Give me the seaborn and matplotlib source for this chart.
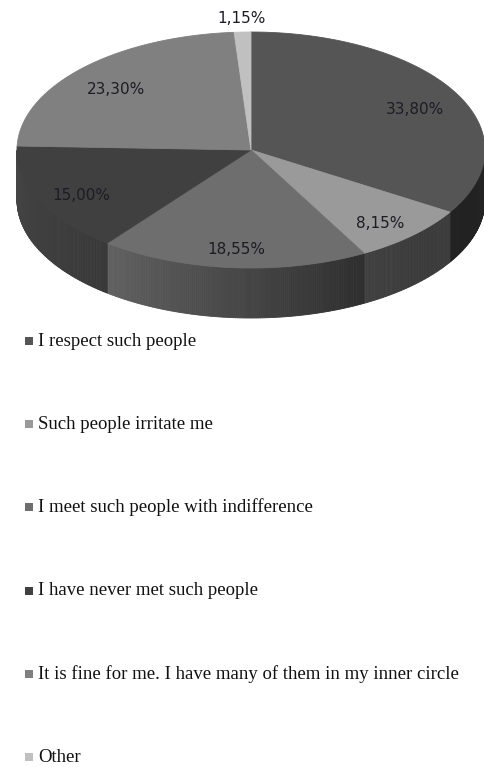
import numpy as np
import matplotlib
matplotlib.use("Agg")
import matplotlib.pyplot as plt
from matplotlib.patches import Polygon, Rectangle
import seaborn as sns

# Survey answers and their shares (%)
categories = [
    "I respect such people",
    "Such people irritate me",
    "I meet such people with indifference",
    "I have never met such people",
    "It is fine for me. I have many of them in my inner circle",
    "Other",
]
shares = [33.80, 8.15, 18.55, 15.00, 23.30, 1.15]
slice_colors = ["#555555", "#9a9a9a", "#6e6e6e", "#404040", "#808080", "#c0c0c0"]

sns.set_theme(style="white")
palette = [np.array(c) for c in sns.color_palette(slice_colors)]

W, H = 485, 769
fig = plt.figure(figsize=(W / 100, H / 100), dpi=100)
ax = fig.add_axes([0, 0, 1, 1])
ax.set_xlim(0, W)
ax.set_ylim(H, 0)
ax.axis("off")

# Tilted-disc geometry (pixel units)
cx, cy, rx, ry, depth = 251, 150, 234, 118, 50

total = sum(shares)
bounds = 90 - 360 * np.concatenate([[0], np.cumsum(shares)]) / total


def pt(phi_deg, r=1.0, dz=0.0):
    p = np.radians(phi_deg)
    return cx + rx * r * np.cos(p), cy - ry * r * np.sin(p) + dz


def side_shade(phi):
    # brightness of the rim as a function of the facing direction
    u = -phi
    return np.interp(u, [0, 45, 61, 128, 180], [0.42, 0.38, 0.42, 0.88, 1.08])


# Rim (front half only)
for i in range(len(shares)):
    a0, a1 = bounds[i], bounds[i + 1]
    lo, hi = max(a1, -180), min(a0, 0)
    if lo >= hi:
        continue
    steps = np.linspace(hi, lo, max(2, int((hi - lo) / 0.5) + 1))
    for p0, p1 in zip(steps[:-1], steps[1:]):
        f = side_shade((p0 + p1) / 2)
        col = np.clip(palette[i] * f, 0, 1)
        quad = [pt(p0), pt(p1), pt(p1, dz=depth), pt(p0, dz=depth)]
        ax.add_patch(Polygon(quad, closed=True, facecolor=col, edgecolor=col, lw=0.6))

# Top face
for i in range(len(shares)):
    a0, a1 = bounds[i], bounds[i + 1]
    arc = np.linspace(a0, a1, max(3, int(abs(a0 - a1) * 2)))
    pts = [(cx, cy)] + [pt(a) for a in arc]
    ax.add_patch(Polygon(pts, closed=True, facecolor=palette[i],
                         edgecolor=palette[i], lw=0.6))

# Value labels
for i, v in enumerate(shares):
    mid = (bounds[i] + bounds[i + 1]) / 2
    inside = v >= 3
    x, y = pt(mid, 0.80 if inside else 1.12, dz=5 if inside else 1)
    ax.text(x, y, f"{v:.2f}%".replace(".", ","), ha="center", va="center",
            fontsize=11, color="#1c1c24", family="DejaVu Sans")

# Legend
for i, lab in enumerate(categories):
    y = 341 + i * 83.2
    ax.add_patch(Rectangle((25, y - 4), 8, 8, facecolor=palette[i], edgecolor="none"))
    ax.text(38, y, lab, ha="left", va="center", fontsize=13.5,
            color="#111111", family="Liberation Serif")

fig.savefig("out.png", dpi=100)
